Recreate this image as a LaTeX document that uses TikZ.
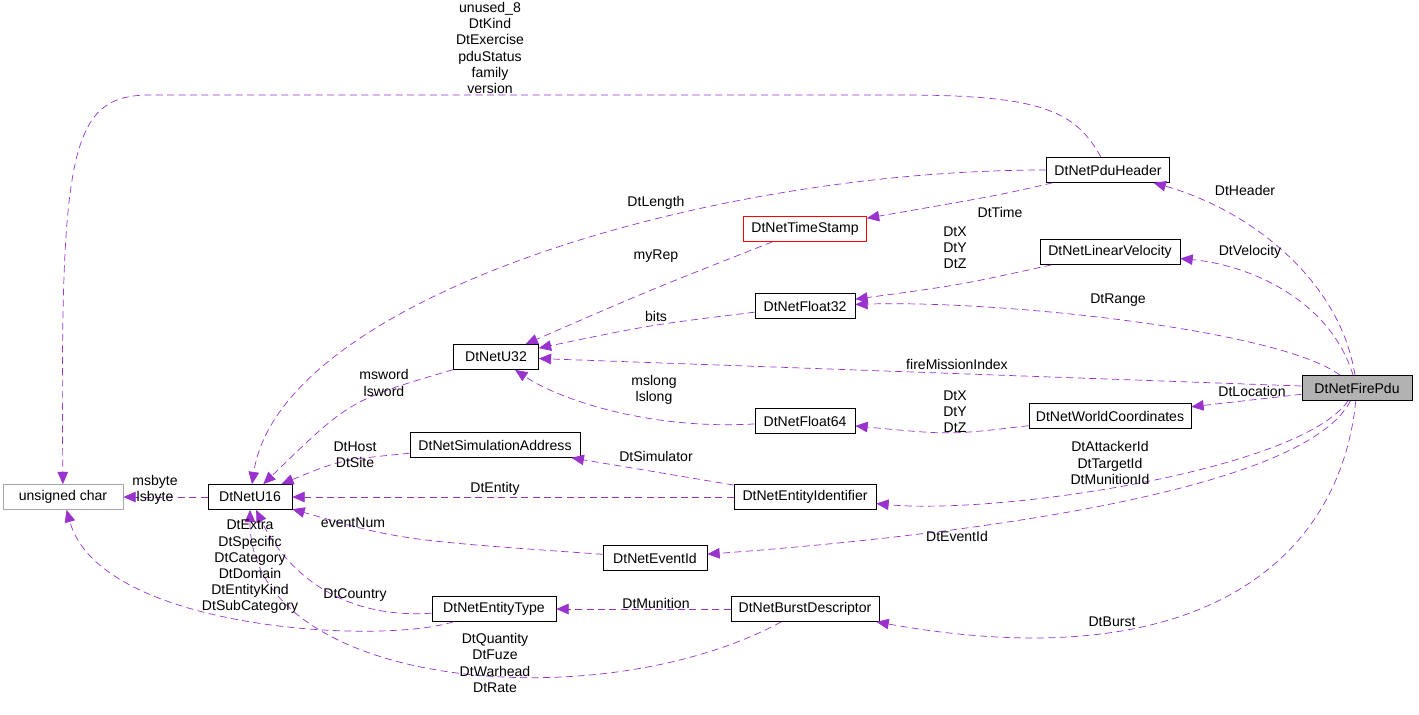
\documentclass[tikz,border=0pt]{standalone}
\usepackage{fontspec}
\setmainfont{Liberation Sans}
\usetikzlibrary{arrows.meta}
\definecolor{dep}{HTML}{9A32CD}
\tikzset{
  cls/.style={draw, inner sep=2pt, minimum height=0.5cm, font=\fontsize{8}{9}\selectfont},
  dep/.style={draw=dep, dashed, dash pattern=on 4pt off 2.5pt, -{Triangle[length=7pt,width=6pt,fill=dep]}},
  lbl/.style={align=center, inner sep=0pt, font=\fontsize{8}{9.2}\selectfont}
}
\begin{document}
\begin{tikzpicture}[x=0.02cm, y=-0.02cm]
	\useasboundingbox (0,0) rectangle (1419,714);
	\draw (1357,388) node[cls, fill=black!30, minimum width=2.2cm] (fpdu) {DtNetFirePdu}
	(1108,170) node[cls, minimum width=2.46cm] (hdr) {DtNetPduHeader}
	(1110,252) node[cls, minimum width=2.8cm] (vel) {DtNetLinearVelocity}
	(1110,416) node[cls, minimum width=3.24cm] (wc) {DtNetWorldCoordinates}
	(805,229) node[cls, draw=red, minimum width=2.46cm] (ts) {DtNetTimeStamp}
	(805,306) node[cls, minimum width=2cm] (f32) {DtNetFloat32}
	(496,357) node[cls, minimum width=1.7cm] (u32) {DtNetU32}
	(805,421) node[cls, minimum width=2cm] (f64) {DtNetFloat64}
	(495,445) node[cls, minimum width=3.4cm] (sim) {DtNetSimulationAddress}
	(805,497) node[cls, minimum width=2.84cm] (eid) {DtNetEntityIdentifier}
	(655,558) node[cls, minimum width=2.08cm] (evt) {DtNetEventId}
	(494,609) node[cls, minimum width=2.48cm] (et) {DtNetEntityType}
	(805,609) node[cls, minimum width=2.96cm] (burst) {DtNetBurstDescriptor}
	(250,497) node[cls, minimum width=1.68cm] (u16) {DtNetU16}
	(63,497) node[cls, draw=black!35, minimum width=2.4cm] (uchar) {unsigned char};

	% links from the fire pdu
	\draw[dep] (fpdu) .. controls (1340,280) and (1250,210) .. (hdr);
	\draw[dep] (fpdu) .. controls (1330,300) and (1250,265) .. (vel);
	\draw[dep] (fpdu) .. controls (1280,330) and (1000,300) .. (f32);
	\draw[dep] (fpdu) -- (u32);
	\draw[dep] (fpdu) -- (wc);
	\draw[dep] (fpdu) .. controls (1300,470) and (1000,515) .. (eid);
	\draw[dep] (fpdu) .. controls (1300,500) and (900,540) .. (evt);
	\draw[dep] (fpdu) .. controls (1340,560) and (1200,680) .. (burst);

	% links between the parts
	\draw[dep] (hdr) .. controls (1075,110) and (1040,95) .. (900,95) -- (150,95) .. controls (70,95) and (60,150) .. (uchar);
	\draw[dep] (hdr) .. controls (700,170) and (280,300) .. (u16);
	\draw[dep] (hdr) .. controls (1000,195) .. (ts);
	\draw[dep] (vel) .. controls (960,285) .. (f32);
	\draw[dep] (ts) .. controls (650,290) .. (u32);
	\draw[dep] (f32) .. controls (650,325) .. (u32);
	\draw[dep] (u32) .. controls (350,400) .. (u16);
	\draw[dep] (f64) .. controls (650,430) and (560,400) .. (u32);
	\draw[dep] (wc) .. controls (950,435) .. (f64);
	\draw[dep] (sim) .. controls (340,460) .. (u16);
	\draw[dep] (eid) -- (sim);
	\draw[dep] (eid) -- (u16);
	\draw[dep] (evt) .. controls (400,540) .. (u16);
	\draw[dep] (et) .. controls (380,645) and (100,630) .. (uchar);
	\draw[dep] (et) .. controls (330,620) and (280,560) .. (u16);
	\draw[dep] (burst) -- (et);
	\draw[dep] (burst) .. controls (600,720) and (250,690) .. (u16);
	\draw[dep] (u16) -- (uchar);

	% labels
	\node[lbl] (l1) at (1245,190) {DtHeader};
	\node[lbl] (l2) at (1250,252) {DtVelocity};
	\node[lbl] (l3) at (1118,300) {DtRange};
	\node[lbl] (l4) at (957,364) {fireMissionIndex};
	\node[lbl] (l5) at (1252,391) {DtLocation};
	\node[lbl] (l6) at (1110,463) {DtAttackerId\\DtTargetId\\DtMunitionId};
	\node[lbl] (l7) at (957,536) {DtEventId};
	\node[lbl] (l8) at (1112,622) {DtBurst};
	\node[lbl] (l9) at (490,48) {unused\_8\\DtKind\\DtExercise\\pduStatus\\family\\version};
	\node[lbl] (l10) at (656,203) {DtLength};
	\node[lbl] (l11) at (1000,212) {DtTime};
	\node[lbl] (l12) at (955,248) {DtX\\DtY\\DtZ};
	\node[lbl] (l13) at (656,256) {myRep};
	\node[lbl] (l14) at (656,316) {bits};
	\node[lbl] (l15) at (384,383) {msword\\lsword};
	\node[lbl] (l16) at (654,390) {mslong\\lslong};
	\node[lbl] (l17) at (955,412) {DtX\\DtY\\DtZ};
	\node[lbl] (l18) at (355,455) {DtHost\\DtSite};
	\node[lbl] (l19) at (656,456) {DtSimulator};
	\node[lbl] (l20) at (495,489) {DtEntity};
	\node[lbl] (l21) at (353,523) {eventNum};
	\node[lbl] (l22) at (250,567) {DtExtra\\DtSpecific\\DtCategory\\DtDomain\\DtEntityKind\\DtSubCategory};
	\node[lbl] (l23) at (355,595) {DtCountry};
	\node[lbl] (l24) at (656,603) {DtMunition};
	\node[lbl] (l25) at (495,663) {DtQuantity\\DtFuze\\DtWarhead\\DtRate};
	\node[lbl] (l26) at (155,490) {msbyte\\lsbyte};
\end{tikzpicture}
\end{document}
